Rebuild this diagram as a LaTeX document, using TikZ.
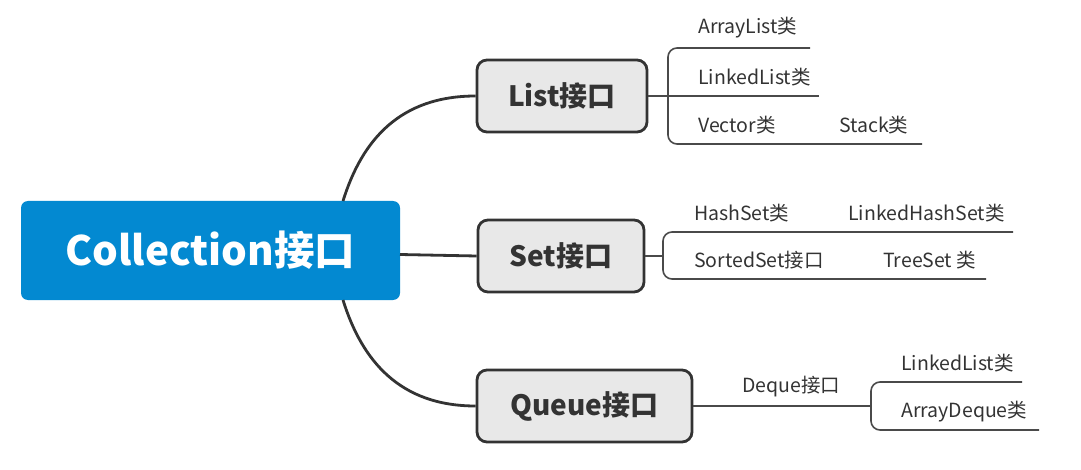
\documentclass[tikz,border=0pt]{standalone}
\usepackage{fontspec}
\setmainfont{Noto Sans CJK SC}
\usepackage{tikz}

\definecolor{collblue}{HTML}{0389D1}
\definecolor{boxgray}{HTML}{E8E8E8}
\definecolor{darkline}{HTML}{333333}
\definecolor{twiggray}{HTML}{4A4A4A}

\tikzset{
  root/.style={fill=collblue, rounded corners=7pt, text=white, inner sep=0pt,
    font=\fontsize{40.5}{48}\selectfont\bfseries},
  branch/.style={draw=darkline, line width=2.8pt, fill=boxgray, rounded corners=10pt,
    text=darkline, inner sep=0pt, minimum height=72pt,
    font=\fontsize{28}{34}\selectfont\bfseries},
  leaf/.style={text=darkline, inner sep=0pt, anchor=west,
    font=\fontsize{19.5}{23}\selectfont},
  main/.style={draw=darkline, line width=2.8pt},
  twig/.style={draw=twiggray, line width=1.6pt, rounded corners=9pt},
}

\begin{document}
\begin{tikzpicture}[x=1pt,y=-1pt]
\useasboundingbox (0,0) rectangle (1081,470);

% root and the three interfaces
\node[root, minimum width=379pt, minimum height=99pt] (coll) at (210.5,250.5) {Collection接口};
\node[branch, minimum width=170pt] (list) at (562,96) {List接口};
\node[branch, minimum width=166pt] (set) at (561,256) {Set接口};
\node[branch, minimum width=215pt] (queue) at (584.5,406) {Queue接口};

\coordinate (cup) at (343,201);
\coordinate (cmid) at (400,254.5);
\coordinate (cdown) at (343,300);

\draw[main] (cup) .. controls (362,140) and (400,96) .. (list.west);
\draw[main] (cmid) -- (set.west);
\draw[main] (cdown) .. controls (362,361) and (400,406) .. (queue.west);

% List
\node[leaf] (arraylist) at (698,28) {ArrayList类};
\node[leaf] (linkedlist) at (698,77) {LinkedList类};
\node[leaf] (vector) at (698,125) {Vector类};
\node[leaf] (stack) at (839,125) {Stack类};

\coordinate (ltop) at (668,48);
\coordinate (lbot) at (668,144);
\coordinate (alend) at (810,48);
\coordinate (llend) at (819,96);
\coordinate (stend) at (922,144);

\draw[twig] (alend) -- (ltop) -- (lbot) -- (stend);
\draw[twig] (list.east) -- (llend);

% Set
\node[leaf] (hashset) at (694,213) {HashSet类};
\node[leaf] (linkedhashset) at (848,213) {LinkedHashSet类};
\node[leaf] (sortedset) at (694,260) {SortedSet接口};
\node[leaf] (treeset) at (883,260) {TreeSet 类};

\coordinate (sj) at (663,256);
\coordinate (stop) at (663,232);
\coordinate (sbot) at (663,279);
\coordinate (hsend) at (1013,232);
\coordinate (tsend) at (986,279);

\draw[twig] (hsend) -- (stop) -- (sbot) -- (tsend);
\draw[twig] (set.east) -- (sj);

% Queue
\node[leaf] (deque) at (742,387) {Deque接口};
\node[leaf] (qlinked) at (901,363) {LinkedList类};
\node[leaf] (arraydeque) at (901,412) {ArrayDeque类};

\coordinate (qj) at (871,406);
\coordinate (qtop) at (871,382);
\coordinate (qbot) at (871,430);
\coordinate (qlend) at (1022,382);
\coordinate (qaend) at (1039,430);

\draw[twig] (qlend) -- (qtop) -- (qbot) -- (qaend);
\draw[twig] (queue.east) -- (qj);

\end{tikzpicture}
\end{document}
